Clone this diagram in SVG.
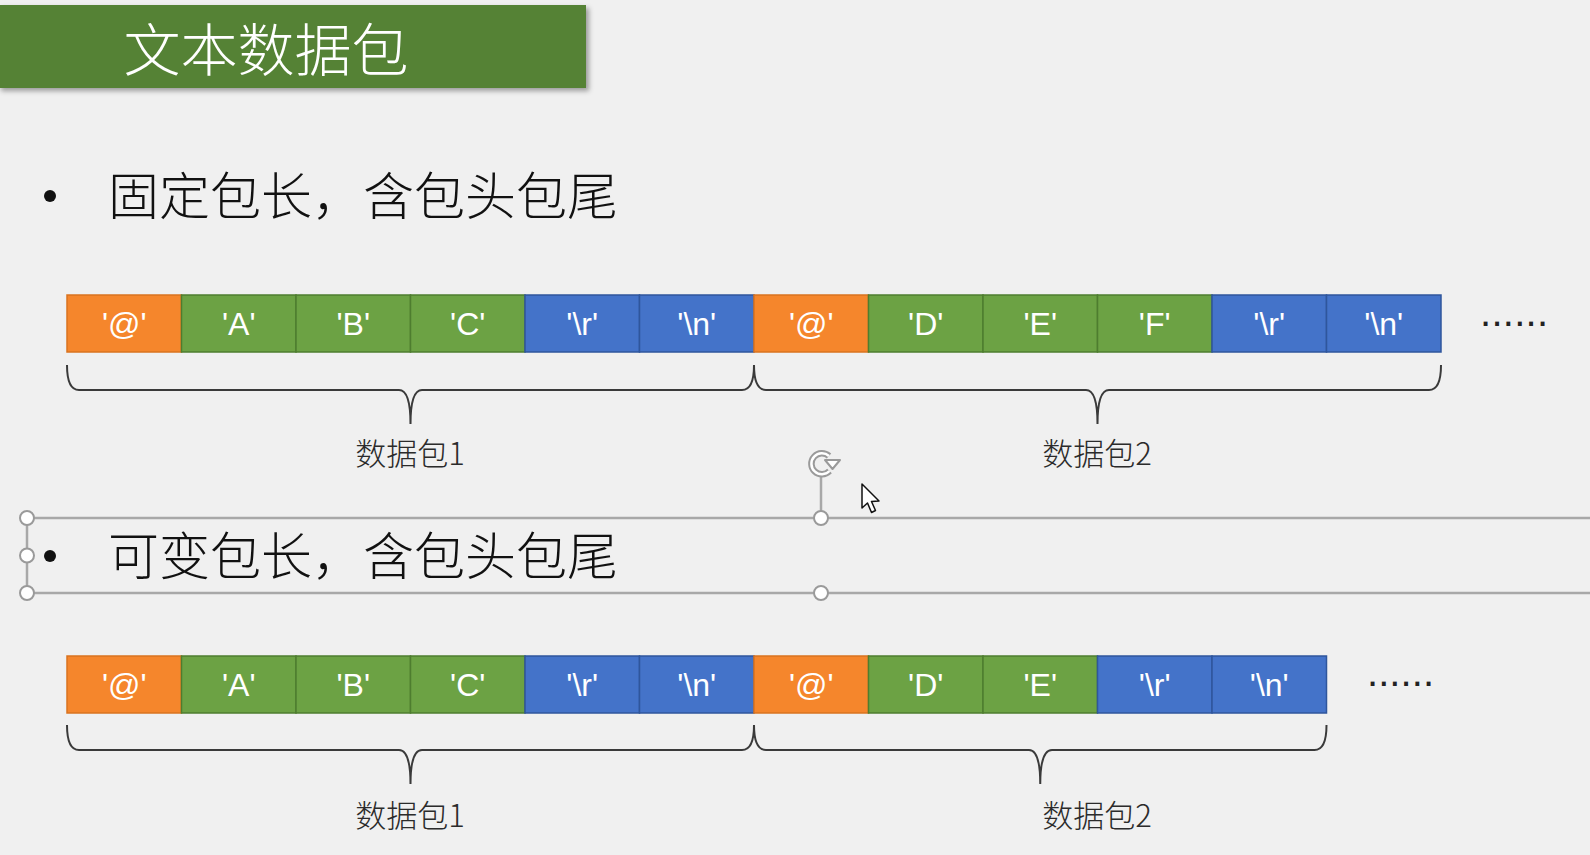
<svg xmlns="http://www.w3.org/2000/svg" width="1590" height="855" viewBox="0 0 1590 855">
<defs>
<style>
.cjk{font-family:"Noto Sans CJK SC","Noto Sans",sans-serif;font-weight:300;}
.cell{font-family:"Liberation Sans",Arial,sans-serif;font-size:32px;fill:#ffffff;text-anchor:middle;}
.or{fill:#f5862c;stroke:#d9731f;stroke-width:1.5;}
.gr{fill:#6ca244;stroke:#4e7d2f;stroke-width:1.5;}
.bl{fill:#4473c9;stroke:#2f569c;stroke-width:1.5;}
.brace{fill:none;stroke:#3a3a3a;stroke-width:2;}
.lbl{font-size:31px;fill:#2b2b2b;text-anchor:middle;}
.bul{font-size:51px;fill:#111111;}
.sel{stroke:#a8a8a8;stroke-width:2.5;fill:none;}
.hdl{fill:#ffffff;stroke:#9a9a9a;stroke-width:2;}
.dots{font-family:"Liberation Sans",Arial,sans-serif;font-size:40px;fill:#222222;}
</style>
<filter id="sh" x="-5%" y="-10%" width="115%" height="130%">
<feDropShadow dx="3" dy="3" stdDeviation="2.5" flood-color="#000000" flood-opacity="0.35"/>
</filter>
</defs>
<rect x="0" y="0" width="1590" height="855" fill="#f0f0f0"/>

<g id="title">
<rect x="-2" y="5" width="588" height="83" fill="#548235" filter="url(#sh)"/>
<text x="266" y="71" class="cjk" font-size="57" fill="#ffffff" text-anchor="middle">文本数据包</text>
</g>

<g id="bullet1">
<circle cx="50" cy="196" r="6" fill="#111"/>
<text x="108" y="215" class="cjk bul">固定包长，含包头包尾</text>
</g>

<g id="row1">
<g id="r1c0"><rect class="or" x="67" y="295" width="114.5" height="57"/><text class="cell" x="124.25" y="335">'@'</text></g>
<g id="r1c1"><rect class="gr" x="181.5" y="295" width="114.5" height="57"/><text class="cell" x="238.75" y="335">'A'</text></g>
<g id="r1c2"><rect class="gr" x="296" y="295" width="114.5" height="57"/><text class="cell" x="353.25" y="335">'B'</text></g>
<g id="r1c3"><rect class="gr" x="410.5" y="295" width="114.5" height="57"/><text class="cell" x="467.75" y="335">'C'</text></g>
<g id="r1c4"><rect class="bl" x="525" y="295" width="114.5" height="57"/><text class="cell" x="582.25" y="335">'\r'</text></g>
<g id="r1c5"><rect class="bl" x="639.5" y="295" width="114.5" height="57"/><text class="cell" x="696.75" y="335">'\n'</text></g>
<g id="r1c6"><rect class="or" x="754" y="295" width="114.5" height="57"/><text class="cell" x="811.25" y="335">'@'</text></g>
<g id="r1c7"><rect class="gr" x="868.5" y="295" width="114.5" height="57"/><text class="cell" x="925.75" y="335">'D'</text></g>
<g id="r1c8"><rect class="gr" x="983" y="295" width="114.5" height="57"/><text class="cell" x="1040.25" y="335">'E'</text></g>
<g id="r1c9"><rect class="gr" x="1097.5" y="295" width="114.5" height="57"/><text class="cell" x="1154.75" y="335">'F'</text></g>
<g id="r1c10"><rect class="bl" x="1212" y="295" width="114.5" height="57"/><text class="cell" x="1269.25" y="335">'\r'</text></g>
<g id="r1c11"><rect class="bl" x="1326.5" y="295" width="114.5" height="57"/><text class="cell" x="1383.75" y="335">'\n'</text></g>
<text class="dots" x="1480" y="326" textLength="68" lengthAdjust="spacing">......</text>
</g>

<g id="braces">
<path class="brace" d="M67 365 Q67 390 79 390 L399 390 Q410.5 390 410.5 424 Q410.5 390 422 390 L742 390 Q754 390 754 365"/>
<path class="brace" d="M754 365 Q754 390 766 390 L1086 390 Q1097.5 390 1097.5 424 Q1097.5 390 1109 390 L1429 390 Q1441 390 1441 365"/>
<path class="brace" d="M67 725 Q67 750 79 750 L399 750 Q410.5 750 410.5 784 Q410.5 750 422 750 L742 750 Q754 750 754 725"/>
<path class="brace" d="M754 725 Q754 750 766 750 L1029 750 Q1040.25 750 1040.25 784 Q1040.25 750 1052 750 L1314.5 750 Q1326.5 750 1326.5 725"/>
</g>

<g id="labels1">
<text class="cjk lbl" x="410" y="465">数据包1</text>
<text class="cjk lbl" x="1097" y="465">数据包2</text>
</g>

<g id="selection">
<line class="sel" x1="27" y1="518" x2="1590" y2="518"/>
<line class="sel" x1="27" y1="593" x2="1590" y2="593"/>
<line class="sel" x1="27" y1="518" x2="27" y2="593" stroke-width="1.5"/>
<line class="sel" x1="821" y1="477" x2="821" y2="518" stroke-width="1.5"/>
<circle class="hdl" cx="27" cy="518" r="7"/>
<circle class="hdl" cx="27" cy="555.5" r="7"/>
<circle class="hdl" cx="27" cy="593" r="7"/>
<circle class="hdl" cx="821" cy="518" r="7"/>
<circle class="hdl" cx="821" cy="593" r="7"/>
<path d="M829 456 A10.5 10.5 0 1 0 829.5 471" fill="none" stroke="#9a9a9a" stroke-width="6.5"/>
<path d="M829 456 A10.5 10.5 0 1 0 829.5 471" fill="none" stroke="#ffffff" stroke-width="2.5"/>
<path d="M825 460 L840 460 L832.5 469 Z" fill="#ffffff" stroke="#9a9a9a" stroke-width="2" stroke-linejoin="round"/>
<path d="M862 484 L862 508 L867.5 503 L871.5 512.5 L875.5 510.5 L871.5 501.5 L879 501 Z" fill="#ffffff" stroke="#111111" stroke-width="1.5" stroke-linejoin="round"/>
</g>

<g id="bullet2">
<circle cx="50" cy="556" r="6" fill="#111"/>
<text x="108" y="575" class="cjk bul">可变包长，含包头包尾</text>
</g>

<g id="row2">
<g id="r2c0"><rect class="or" x="67" y="656" width="114.5" height="57"/><text class="cell" x="124.25" y="696">'@'</text></g>
<g id="r2c1"><rect class="gr" x="181.5" y="656" width="114.5" height="57"/><text class="cell" x="238.75" y="696">'A'</text></g>
<g id="r2c2"><rect class="gr" x="296" y="656" width="114.5" height="57"/><text class="cell" x="353.25" y="696">'B'</text></g>
<g id="r2c3"><rect class="gr" x="410.5" y="656" width="114.5" height="57"/><text class="cell" x="467.75" y="696">'C'</text></g>
<g id="r2c4"><rect class="bl" x="525" y="656" width="114.5" height="57"/><text class="cell" x="582.25" y="696">'\r'</text></g>
<g id="r2c5"><rect class="bl" x="639.5" y="656" width="114.5" height="57"/><text class="cell" x="696.75" y="696">'\n'</text></g>
<g id="r2c6"><rect class="or" x="754" y="656" width="114.5" height="57"/><text class="cell" x="811.25" y="696">'@'</text></g>
<g id="r2c7"><rect class="gr" x="868.5" y="656" width="114.5" height="57"/><text class="cell" x="925.75" y="696">'D'</text></g>
<g id="r2c8"><rect class="gr" x="983" y="656" width="114.5" height="57"/><text class="cell" x="1040.25" y="696">'E'</text></g>
<g id="r2c9"><rect class="bl" x="1097.5" y="656" width="114.5" height="57"/><text class="cell" x="1154.75" y="696">'\r'</text></g>
<g id="r2c10"><rect class="bl" x="1212" y="656" width="114.5" height="57"/><text class="cell" x="1269.25" y="696">'\n'</text></g>
<text class="dots" x="1367" y="686" textLength="67" lengthAdjust="spacing">......</text>
</g>

<g id="labels2">
<text class="cjk lbl" x="410" y="827">数据包1</text>
<text class="cjk lbl" x="1097" y="827">数据包2</text>
</g>
</svg>
